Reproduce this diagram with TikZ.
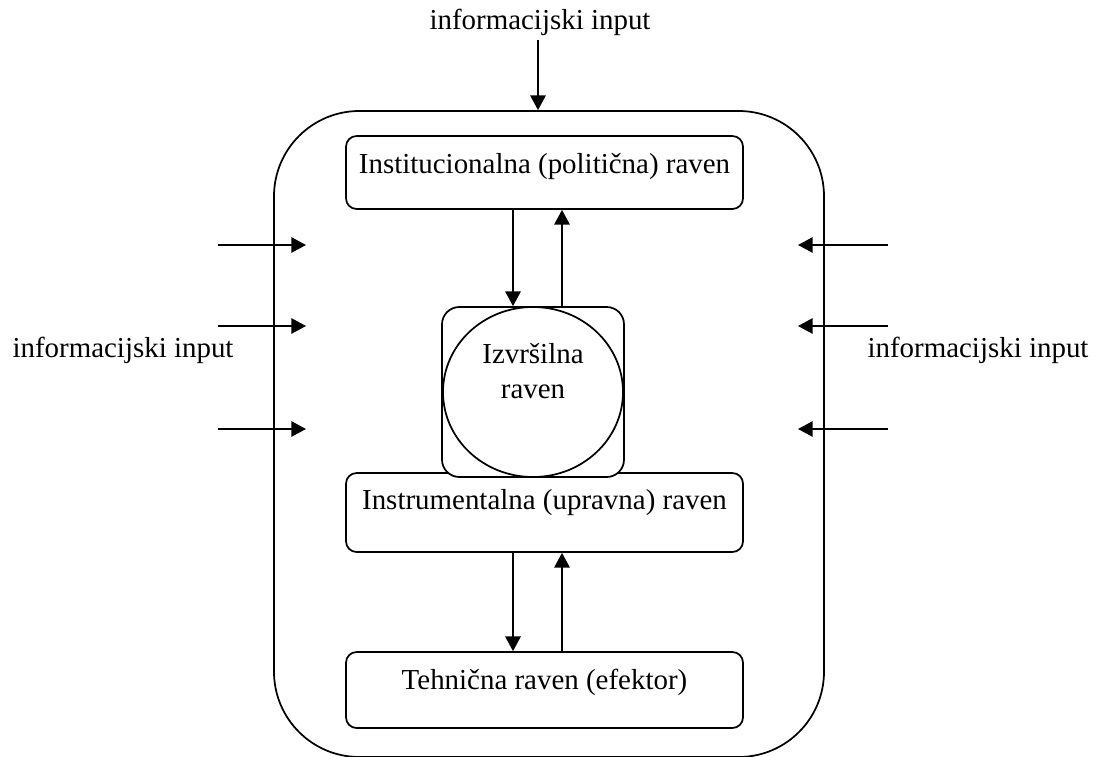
\documentclass[tikz,border=0pt]{standalone}
\usepackage{fontspec}
\setmainfont{Liberation Serif}
\usetikzlibrary{arrows.meta,shapes.geometric,calc}
\begin{document}
\begin{tikzpicture}[x=0.75pt,y=-0.75pt,
  line width=1.3pt,
  every node/.style={font=\fontsize{21.7}{26}\selectfont},
  box/.style={draw,rectangle,rounded corners=8pt,inner sep=0pt,minimum width=297.75pt},
  txt/.style={inner sep=0pt,align=center},
  arr/.style={-{Triangle[length=11pt,width=11.5pt]}}]
\useasboundingbox (0,0) rectangle (1093,757);
% outer frame
\node[draw,rectangle,rounded corners=64pt,inner sep=0pt,minimum width=412.5pt,minimum height=484.5pt] (outer) at (549,434) {};
% boxes
\node[box,minimum height=54.75pt] (inst) at (544.5,172.5) {};
\node[txt] (instT) at ($(inst.center)+(0,-6)$) {Institucionalna (politična) raven};
\node[box,minimum height=59.25pt] (instr) at (544.5,512.5) {};
\node[txt] (instrT) at ($(instr.center)+(0,-10)$) {Instrumentalna (upravna) raven};
\node[box,minimum height=57pt] (tech) at (544.5,690) {};
\node[txt] (techT) at ($(tech.center)+(0,-8)$) {Tehnična raven (efektor)};
% executive
\node[draw,rectangle,rounded corners=13pt,inner sep=0pt,minimum width=136.5pt,minimum height=127.5pt,fill=white] (exsq) at (533,392) {};
\node[draw,ellipse,inner sep=0pt,minimum width=135pt,minimum height=127.5pt] (exc) at (533,392) {};
\node[txt] (excT) at (533,371) {Izvršilna\\raven};
% labels
\node[txt] (topL) at (540,22) {informacijski input};
\node[txt] (leftL) at (123,350) {informacijski input};
\node[txt] (rightL) at (978,350) {informacijski input};
% coordinates
\coordinate (topS) at (538,40);
\coordinate (xa) at (513,0);
\coordinate (xb) at (562,0);
\coordinate (l1) at (218,245); \coordinate (l1e) at (306,245);
\coordinate (l2) at (218,326); \coordinate (l2e) at (306,326);
\coordinate (l3) at (218,429); \coordinate (l3e) at (306,429);
\coordinate (r1) at (888,245); \coordinate (r1e) at (798,245);
\coordinate (r2) at (888,326); \coordinate (r2e) at (798,326);
\coordinate (r3) at (888,429); \coordinate (r3e) at (798,429);
% arrows
\draw[arr] (topS) -- (topS |- outer.north);
\draw[arr] (inst.south -| xa) -- (exc.north -| xa);
\draw[arr] (exsq.north -| xb) -- (inst.south -| xb);
\draw[arr] (instr.south -| xa) -- (tech.north -| xa);
\draw[arr] (tech.north -| xb) -- (instr.south -| xb);
\foreach \a/\b in {l1/l1e,l2/l2e,l3/l3e,r1/r1e,r2/r2e,r3/r3e}
  \draw[arr] (\a) -- (\b);
\end{tikzpicture}
\end{document}
